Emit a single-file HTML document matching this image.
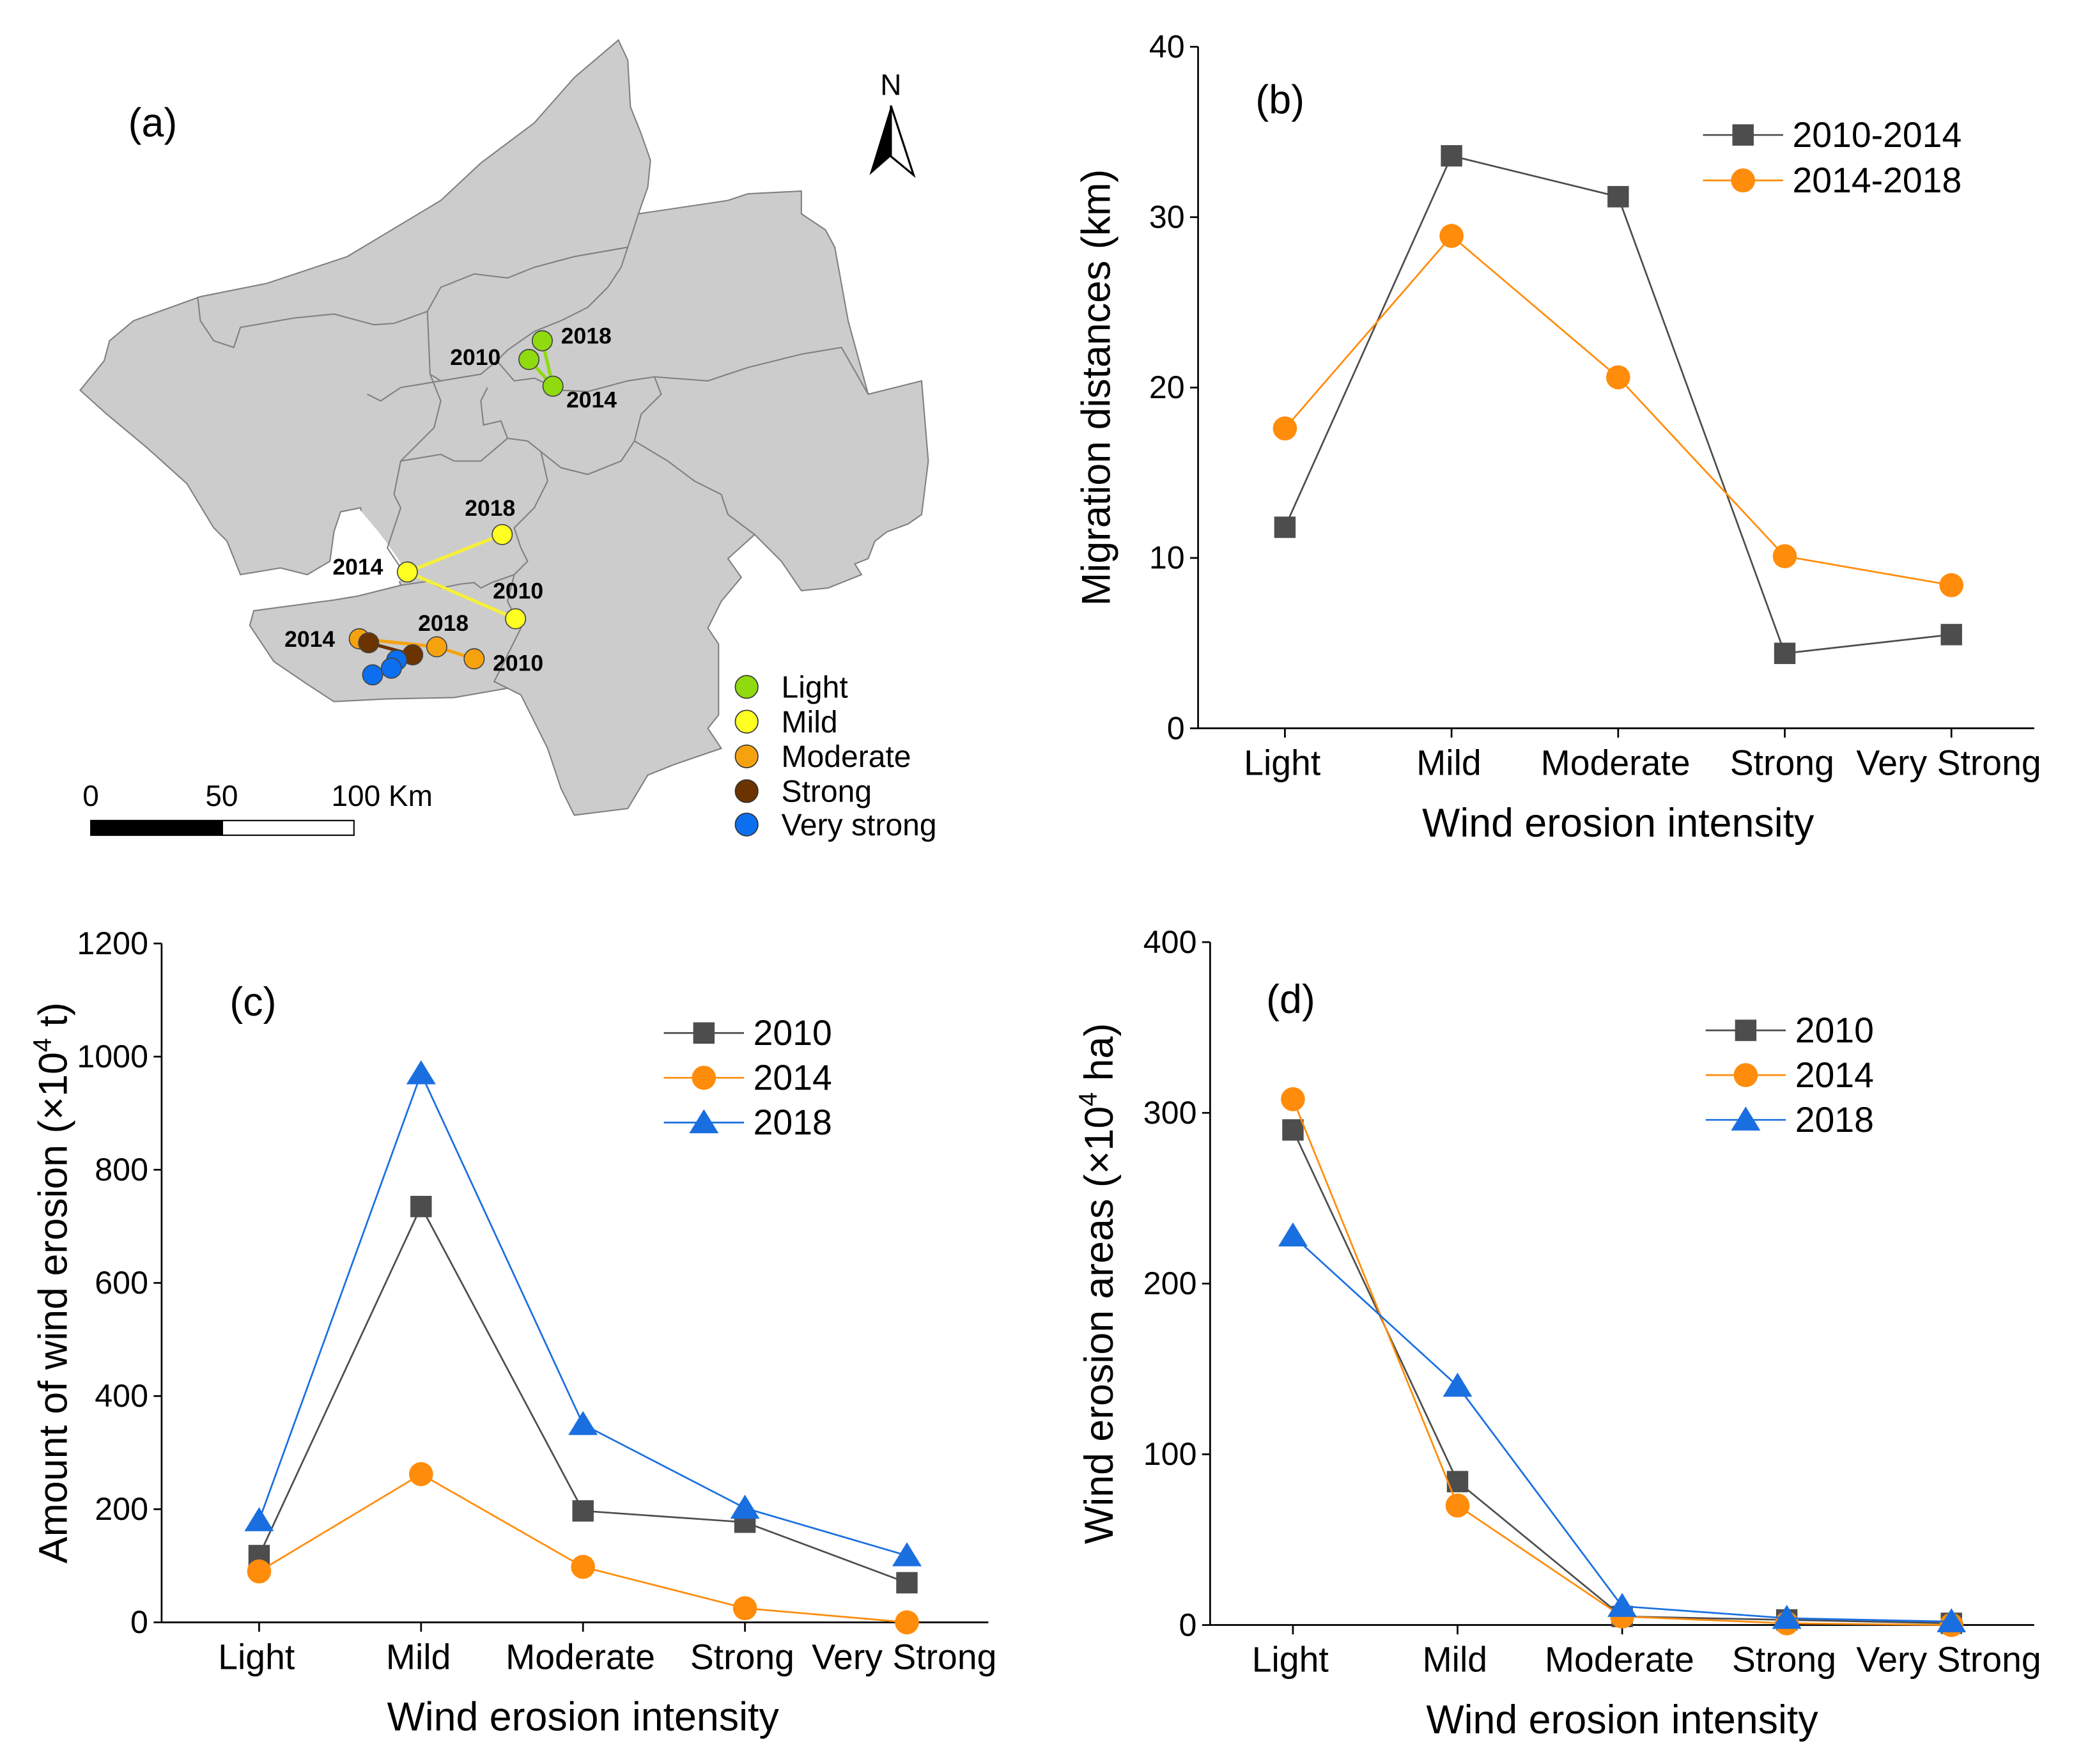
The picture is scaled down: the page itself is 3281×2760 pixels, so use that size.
<!DOCTYPE html>
<html><head><meta charset="utf-8"><style>
html,body{margin:0;padding:0;background:#fff;}
svg{display:block;font-family:"Liberation Sans",Arial,sans-serif;}
</style></head><body>
<svg id="fig" width="3281" height="2760" viewBox="0 0 1570 1320" preserveAspectRatio="none">
<rect width="1570" height="1320" fill="#fff"/>
<g id="map">
<path fill="#cccccc" stroke="#808080" stroke-width="1" d="M463,30 L470,45 L472,80 L480,100 L487,120 L485,140 L478,160 L545,150 L560,145 L600,143 L600,160 L618,172 L625,185 L635,240 L650,295 L690,285 L695,345 L690,385 L680,392 L664,398 L655,405 L650,418 L640,422 L645,430 L620,440 L600,442 L585,420 L565,400 L545,418 L555,432 L540,450 L530,470 L538,482 L538,535 L530,545 L540,560 L505,572 L485,580 L470,605 L430,610 L420,590 L410,560 L400,540 L390,520 L380,515 L340,522 L290,523 L250,525 L230,512 L205,495 L187,468 L190,457 L250,449 L268,446 L300,438 L296,425 L283,415 L272,400 L270,380 L255,383 L250,398 L247,420 L230,430 L210,425 L180,430 L170,405 L160,395 L140,362 L110,335 L80,310 L60,292 L78,270 L82,255 L100,240 L150,222 L200,212 L260,192 L300,168 L330,150 L360,122 L400,92 L430,58 Z"/>
<path fill="#fff" d="M256,385 L270,382 L285,400 L298,418 L305,430 L295,438 L266,443 L250,448 L248,425 Z"/>
<g fill="none" stroke="#808080" stroke-width="1">
<polyline points="478,160 470,185 465,200 455,215 440,230 420,240 400,248 380,262 372,270 360,280 330,285 300,290 285,300 275,295"/>
<polyline points="148,222 150,240 160,255 175,260 180,245 220,238 250,235 280,243 295,242 320,233 330,215 355,205 380,208 400,200 430,192 470,185"/>
<polyline points="320,233 322,280 330,285"/>
<polyline points="372,270 385,285 400,283 420,292 440,293 470,285 490,282 495,295 480,310 475,330 465,345 440,355 420,350 405,338 395,330 380,328 375,315 362,318 360,300 365,290"/>
<polyline points="490,282 530,285 560,275 600,265 630,260 650,295"/>
<polyline points="475,330 500,345 520,360 540,370 545,385 565,400"/>
<polyline points="405,338 410,360 400,380 385,395 390,410 395,420 385,430 380,450 390,470 380,490 370,510 380,515"/>
<polyline points="322,280 330,300 325,320 310,335 300,345 295,370 300,380 290,410 300,425"/>
<polyline points="300,345 330,340 340,345 360,345 380,328"/>
<polyline points="300,438 320,435 330,440 345,437 355,436 360,440 368,436 385,430"/>
</g>
<text x="96" y="102" font-size="30">(a)</text>
<g>
<text x="667" y="71" font-size="22" text-anchor="middle">N</text>
<polygon points="667,79 651,131 667,117" fill="#000"/>
<polygon points="667,79 684,131 667,117" fill="#fff" stroke="#000" stroke-width="1.5"/>
</g>
<g id="trajectories"></g>
<g font-size="23">
<circle cx="559" cy="514" r="8.5" fill="#8fdb0f" stroke="#333" stroke-width="0.8"/><text x="585" y="522">Light</text>
<circle cx="559" cy="540" r="8.5" fill="#ffff22" stroke="#333" stroke-width="0.8"/><text x="585" y="548">Mild</text>
<circle cx="559" cy="566" r="8.5" fill="#f6a20f" stroke="#333" stroke-width="0.8"/><text x="585" y="574">Moderate</text>
<circle cx="559" cy="592" r="8.5" fill="#6b3300" stroke="#333" stroke-width="0.8"/><text x="585" y="600">Strong</text>
<circle cx="559" cy="617" r="8.5" fill="#0c6ff0" stroke="#333" stroke-width="0.8"/><text x="585" y="625">Very strong</text>
</g>
<g font-size="22">
<text x="68" y="603" text-anchor="middle">0</text>
<text x="166" y="603" text-anchor="middle">50</text>
<text x="286" y="603" text-anchor="middle">100 Km</text>
<rect x="68" y="614" width="197" height="11" fill="#fff" stroke="#000" stroke-width="1"/>
<rect x="68" y="614" width="99" height="11" fill="#000"/>
</g>
</g>
<g id="pb"></g><g id="pc"></g><g id="pd"></g>
<script>
const NS="http://www.w3.org/2000/svg";
const categories=["Light","Mild","Moderate","Strong","Very Strong"];
// Panel b
const bSeriesNames=["2010-2014","2014-2018"];
const b2010_2014=[11.8,33.6,31.2,4.4,5.5];
const b2014_2018=[17.6,28.9,20.6,10.1,8.4];
const bTicks=[0,10,20,30,40];
// Panel c
const cSeriesNames=["2010","2014","2018"];
const c2010=[118,735,197,177,70];
const c2014=[90,262,98,25,0];
const c2018=[180,970,350,202,118];
const cTicks=[0,200,400,600,800,1000,1200];
// Panel d
const dSeriesNames=["2010","2014","2018"];
const d2010=[290,84,5,3,1];
const d2014=[308,70,5,1,0];
const d2018=[228,140,11,4,2];
const dTicks=[0,100,200,300,400];
// Map trajectories (display coords of centroids)
const mapLight=[[396,269,"2010"],[414,289,"2014"],[406,255,"2018"]];
const mapMild=[[386,463,"2010"],[305,428,"2014"],[376,400,"2018"]];
const mapModerate=[[355,493,"2010"],[269,478,"2014"],[327,484,"2018"]];
const mapStrong=[[309,490],[276,481]];
const mapVeryStrong=[[297,494],[293,500],[279,505]];

function el(tag,attrs,parent,text){const e=document.createElementNS(NS,tag);for(const k in attrs)e.setAttribute(k,attrs[k]);if(text!==undefined)e.textContent=text;parent.appendChild(e);return e;}

const COLORS={dark:"#4d4d4d",orange:"#ff8c0a",blue:"#1a6fe0"};

function marker(g,type,x,y,color){
  let m;
  if(type==="sq"){m=el("rect",{x:x-8,y:y-8,width:16,height:16,fill:color},g);}
  else if(type==="ci"){m=el("circle",{cx:x,cy:y,r:9,fill:color},g);}
  else {m=el("polygon",{points:`${x},${y-10} ${x-11},${y+8} ${x+11},${y+8}`,fill:color},g);}
  return m;
}

function panel(gid,cfg){
  const g=document.getElementById(gid);
  const sx=i=>cfg.cx[0]+i*(cfg.cx[1]-cfg.cx[0])/4;
  const sy=v=>cfg.y0+(cfg.yTop-cfg.y0)*v/cfg.max;
  const ax=el("line",{x1:cfg.ax,y1:cfg.yTop,x2:cfg.ax,y2:cfg.y0,stroke:"#000","stroke-width":1.3},g);
  
  
  const xx=el("line",{x1:cfg.ax,y1:cfg.y0,x2:cfg.xEnd,y2:cfg.y0,stroke:"#000","stroke-width":1.3},g);
  
  
  cfg.ticks.forEach(t=>{
    const y=sy(t);
    el("line",{x1:cfg.ax-6,y1:y,x2:cfg.ax,y2:y,stroke:"#000","stroke-width":1.3},g);
    const tl=el("text",{x:cfg.ax-10,y:y+8,"font-size":24,"text-anchor":"end"},g,String(t));
    
    
  });
  categories.forEach((c,i)=>{
    el("line",{x1:sx(i),y1:cfg.y0,x2:sx(i),y2:cfg.y0+7,stroke:"#000","stroke-width":1.3},g);
    const tl=el("text",{x:sx(i)-2,y:cfg.y0+35,"font-size":26.5,"text-anchor":"middle"},g,c);
    
    
  });
  const xt=el("text",{x:(cfg.cx[0]+sx(4))/2,y:cfg.y0+81,"font-size":30,"text-anchor":"middle"},g,"Wind erosion intensity");
  
  
  const yt=el("text",{x:0,y:0,"font-size":30,"text-anchor":"middle",transform:`translate(${cfg.ylx},${(cfg.yTop+cfg.y0)/2}) rotate(-90)`},g);
  
  
  el("tspan",{},yt,cfg.ylabel[0]);
  if(cfg.ylabel.length>1){
    el("tspan",{dy:-12,"font-size":19},yt,cfg.ylabel[1]);
    el("tspan",{dy:12},yt,cfg.ylabel[2]);
  }
  const pl=el("text",{x:cfg.label[0],y:cfg.label[1],"font-size":30},g,cfg.labelText);
  
  
  cfg.series.forEach((s,k)=>{
    const sg=el("g",{},g);
    
    
    const pts=s.data.map((v,i)=>sx(i)+","+sy(v)).join(" ");
    const line=el("polyline",{points:pts,fill:"none",stroke:s.color,"stroke-width":1.3},sg);
    
    
    s.data.forEach((v,i)=>{
      const m=marker(sg,s.type,sx(i),sy(v),s.color);
      
      
    });
    const ly=cfg.leg[1]+k*cfg.legStep;
    const lg=el("g",{},g);
    
    
    el("line",{x1:cfg.leg[0],y1:ly,x2:cfg.leg[0]+60,y2:ly,stroke:s.color,"stroke-width":1.3},lg);
    marker(lg,s.type,cfg.leg[0]+30,ly,s.color);
    el("text",{x:cfg.leg[0]+67,y:ly+9,"font-size":26.5},lg,s.name);
  });
}
panel("pb",{ax:897,yTop:35,y0:545,xEnd:1523,cx:[962,1461],max:40,ticks:bTicks,ylx:831,
  ylabel:["Migration distances (km)"],label:[940,85],labelText:"(b)",leg:[1275,101],legStep:34,
  series:[{name:bSeriesNames[0],data:b2010_2014,color:COLORS.dark,type:"sq"},{name:bSeriesNames[1],data:b2014_2018,color:COLORS.orange,type:"ci"}]});
panel("pc",{ax:121,yTop:706,y0:1214,xEnd:740,cx:[194,679],max:1200,ticks:cTicks,ylx:50,
  ylabel:["Amount of wind erosion (×10","4"," t)"],label:[172,760],labelText:"(c)",leg:[497,773],legStep:33.5,
  series:[{name:cSeriesNames[0],data:c2010,color:COLORS.dark,type:"sq"},{name:cSeriesNames[1],data:c2014,color:COLORS.orange,type:"ci"},{name:cSeriesNames[2],data:c2018,color:COLORS.blue,type:"tr"}]});
panel("pd",{ax:906,yTop:705,y0:1216,xEnd:1523,cx:[968,1461],max:400,ticks:dTicks,ylx:833,
  ylabel:["Wind erosion areas (×10","4"," ha)"],label:[948,758],labelText:"(d)",leg:[1277,771],legStep:33.5,
  series:[{name:dSeriesNames[0],data:d2010,color:COLORS.dark,type:"sq"},{name:dSeriesNames[1],data:d2014,color:COLORS.orange,type:"ci"},{name:dSeriesNames[2],data:d2018,color:COLORS.blue,type:"tr"}]});

const tg=document.getElementById("trajectories");
function traj(pts,lineColor,fill,order,labels,name){
  const g=el("g",{},tg);
  
  
  const seq=order.map(i=>pts[i][0]+","+pts[i][1]).join(" ");
  el("polyline",{points:seq,fill:"none",stroke:lineColor,"stroke-width":2.5},g);
  pts.forEach(p=>{
    const c=el("circle",{cx:p[0],cy:p[1],r:7.5,fill:fill,stroke:"#444","stroke-width":0.8},g);
    
    
  });
  if(labels)labels.forEach((l,i)=>{el("text",{x:l[0],y:l[1],"font-size":17,"font-weight":"bold"},g,pts[i][2]);});
}
traj(mapLight,"#8fdb0f","#8fdb0f",[0,1,2],[[337,273],[424,305],[420,257]],"light");
traj(mapMild,"#f5f03a","#ffff22",[0,1,2],[[369,448],[249,430],[348,386]],"mild");
traj(mapModerate,"#f6a20f","#f6a20f",[1,2,0],[[369,502],[213,484],[313,472]],"moderate");
traj(mapStrong,"#6b3300","#6b3300",[0,1],null,"strong");
traj(mapVeryStrong,"#0c6ff0","#0c6ff0",[0,1,2],null,"very-strong");
</script>
</svg>
</body></html>
